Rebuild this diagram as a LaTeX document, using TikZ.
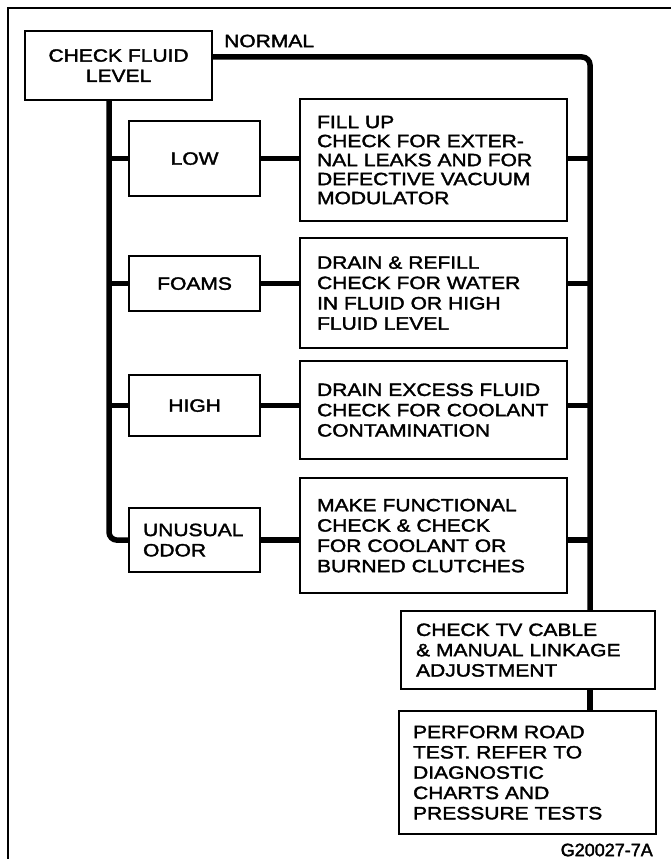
\documentclass[tikz,border=0pt]{standalone}
\usepackage{fontspec}
\setmainfont{Liberation Sans}[FakeStretch=1.18,FakeBold=2]
\newfontfamily\figfont{Liberation Sans}[FakeBold=2]
\begin{document}
\begin{tikzpicture}[x=1pt,y=-1pt,
  box/.style={draw,line width=2.2pt,inner ysep=0pt,anchor=north west,
    font=\fontsize{17.8}{20.3}\selectfont},
  lbox/.style={box,align=center,inner xsep=0pt,text width=#1},
  rbox/.style={box,align=left,inner xsep=6pt,execute at begin node={\leftskip=#1}},
  conn/.style={line width=5.5pt},
  frameline/.style={line width=2pt}]
\useasboundingbox (0,0) rectangle (671,859);
% frame
\draw[frameline] (8,859) -- (8,8) -- (671,8);
% left column
\node[lbox=187pt,minimum height=69pt] (cfl) at (24,30) {CHECK FLUID\\LEVEL};
\node[lbox=131pt,minimum height=75pt] (low) at (128,120) {LOW};
\node[lbox=131pt,minimum height=55pt] (foams) at (128,255) {FOAMS};
\node[lbox=131pt,minimum height=61pt] (high) at (128,374) {HIGH};
\node[rbox=8pt,text width=119pt,minimum height=64pt] (odor) at (128,507) {UNUSUAL\\ODOR};
% right column
\node[rbox=11pt,text width=255pt,minimum height=122pt,
  font=\fontsize{17.8}{19}\selectfont] (fill) at (299,98)
  {FILL UP\\CHECK FOR EXTER-\\NAL LEAKS AND FOR\\DEFECTIVE VACUUM\\MODULATOR};
\node[rbox=11pt,text width=255pt,minimum height=110pt] (drain) at (299,237)
  {DRAIN \& REFILL\\CHECK FOR WATER\\IN FLUID OR HIGH\\FLUID LEVEL};
\node[rbox=11pt,text width=255pt,minimum height=98pt] (excess) at (299,360)
  {DRAIN EXCESS FLUID\\CHECK FOR COOLANT\\CONTAMINATION};
\node[rbox=11pt,text width=255pt,minimum height=115pt] (func) at (299,477)
  {MAKE FUNCTIONAL\\CHECK \& CHECK\\FOR COOLANT OR\\BURNED CLUTCHES};
\node[rbox=9pt,text width=242pt,minimum height=78pt] (tv) at (400,610)
  {CHECK TV CABLE\\\& MANUAL LINKAGE\\ADJUSTMENT};
\node[rbox=8pt,text width=245pt,minimum height=123pt] (road) at (398,710)
  {PERFORM ROAD\\TEST. REFER TO\\DIAGNOSTIC\\CHARTS AND\\PRESSURE TESTS};
% labels
\node[anchor=west,inner sep=0pt,font=\fontsize{17.8}{20}\selectfont] (normal) at (224,41) {NORMAL};
\node[anchor=east,inner sep=0pt,font=\figfont\fontsize{18}{20}\selectfont] (fig) at (653,850) {G20027-7A};
% rails
\coordinate (trunk) at (109,0);
\coordinate (rail) at (590,57);
\draw[conn,rounded corners=8pt] (trunk |- cfl.south) -- (trunk |- odor.west) -- (odor.west);
\foreach \b in {low,foams,high}
  \draw[conn] (trunk |- \b.west) -- (\b.west);
\draw[conn,rounded corners=8pt] (cfl.east |- rail) -- (rail) -- (rail |- tv.north);
\draw[conn] (rail |- tv.south) -- (rail |- road.north);
% branches
\draw[conn] (low.east) -- (low.east -| fill.west);
\draw[conn] (fill.east |- low.east) -- (rail |- low.east);
\draw[conn] (foams.east) -- (foams.east -| drain.west);
\draw[conn] (drain.east |- foams.east) -- (rail |- foams.east);
\draw[conn] (high.east) -- (high.east -| excess.west);
\draw[conn] (excess.east |- high.east) -- (rail |- high.east);
\draw[conn] (odor.east) -- (odor.east -| func.west);
\draw[conn] (func.east |- odor.east) -- (rail |- odor.east);
\end{tikzpicture}
\end{document}
